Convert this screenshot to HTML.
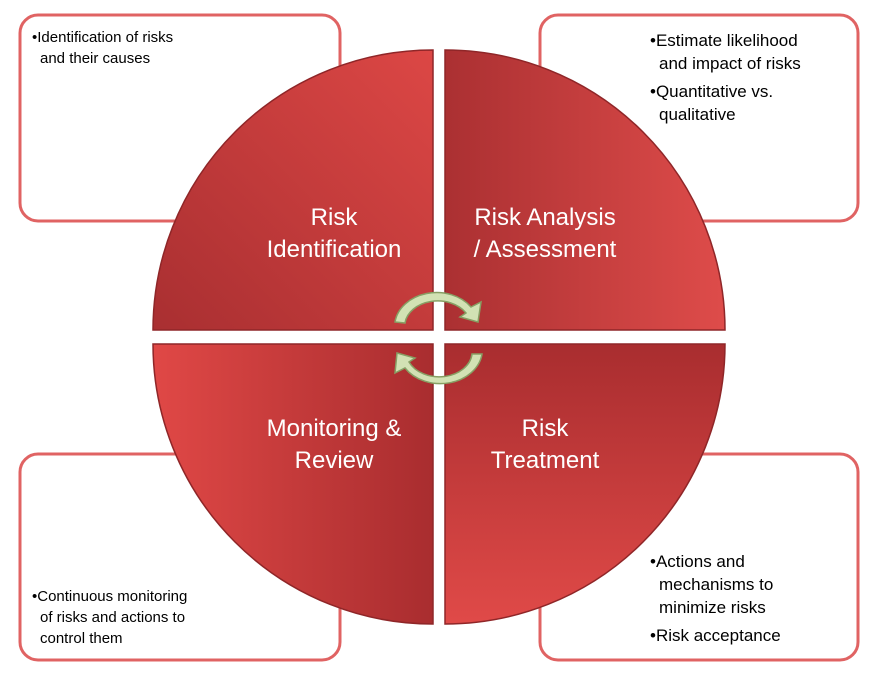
<!DOCTYPE html>
<html><head><meta charset="utf-8"><style>
body{margin:0;background:#fff;width:874px;height:686px;overflow:hidden}
svg{display:block}
text{font-family:"Liberation Sans",sans-serif}
</style></head><body>
<svg width="874" height="686" viewBox="0 0 874 686">
<defs>
<linearGradient id="gq" x1="1" y1="0" x2="0" y2="1">
<stop offset="0" stop-color="#dc4745"/><stop offset="1" stop-color="#a92f31"/></linearGradient>
<linearGradient id="gq2" x1="0" y1="0" x2="1" y2="0">
<stop offset="0" stop-color="#ab3032"/><stop offset="1" stop-color="#de4c4a"/></linearGradient>
<linearGradient id="gq3" x1="0" y1="0" x2="1" y2="0">
<stop offset="0" stop-color="#e04846"/><stop offset="1" stop-color="#a92d2f"/></linearGradient>
<linearGradient id="gq4" x1="0" y1="0" x2="0" y2="1">
<stop offset="0" stop-color="#a92d2f"/><stop offset="1" stop-color="#e04a48"/></linearGradient>
</defs>
<g fill="#fff" stroke="#e06363" stroke-width="3">
<rect x="20" y="15" width="320" height="206" rx="18"/>
<rect x="540" y="15" width="318" height="206" rx="18"/>
<rect x="20" y="454" width="320" height="206" rx="18"/>
<rect x="540" y="454" width="318" height="206" rx="18"/>
</g>
<g font-size="15" fill="#000">
<text x="32" y="42">•Identification of risks</text><text x="40" y="63">and their causes</text>
<text x="650" y="46" font-size="17">•Estimate likelihood</text><text x="659" y="69" font-size="17">and impact of risks</text>
<text x="650" y="97" font-size="17">•Quantitative vs.</text><text x="659" y="120" font-size="17">qualitative</text>
<text x="32" y="601">•Continuous monitoring</text><text x="40" y="622">of risks and actions to</text><text x="40" y="643">control them</text>
<text x="650" y="567" font-size="17">•Actions and</text><text x="659" y="590" font-size="17">mechanisms to</text><text x="659" y="613" font-size="17">minimize risks</text>
<text x="650" y="641" font-size="17">•Risk acceptance</text>
</g>
<g stroke="#8f2628" stroke-width="1.5">
<path d="M433,330 L153,330 A280,280 0 0 1 433,50 Z" fill="url(#gq)"/>
<path d="M445,330 L445,50 A280,280 0 0 1 725,330 Z" fill="url(#gq2)"/>
<path d="M433,344 L433,624 A280,280 0 0 1 153,344 Z" fill="url(#gq3)"/>
<path d="M445,344 L725,344 A280,280 0 0 1 445,624 Z" fill="url(#gq4)"/>
</g>
<g font-size="24" fill="#fff" text-anchor="middle">
<text x="334" y="225">Risk</text><text x="334" y="257">Identification</text>
<text x="545" y="225">Risk Analysis</text><text x="545" y="257">/ Assessment</text>
<text x="334" y="436">Monitoring &amp;</text><text x="334" y="468">Review</text>
<text x="545" y="436">Risk</text><text x="545" y="468">Treatment</text>
</g>
<g fill="#d2e2b4" stroke="#879f64" stroke-width="1.5">
<path d="M395,322 A42,34 0 0 1 471,307 L481,302 L478,322 L460,317 L466,313 A33,25 0 0 0 405,323 Z"/>
<path d="M482,354 A42,34 0 0 1 405,368 L395,373 L397,353 L415,358 L409,362 A33,25 0 0 0 472,354 Z"/>
</g>
</svg>
</body></html>
